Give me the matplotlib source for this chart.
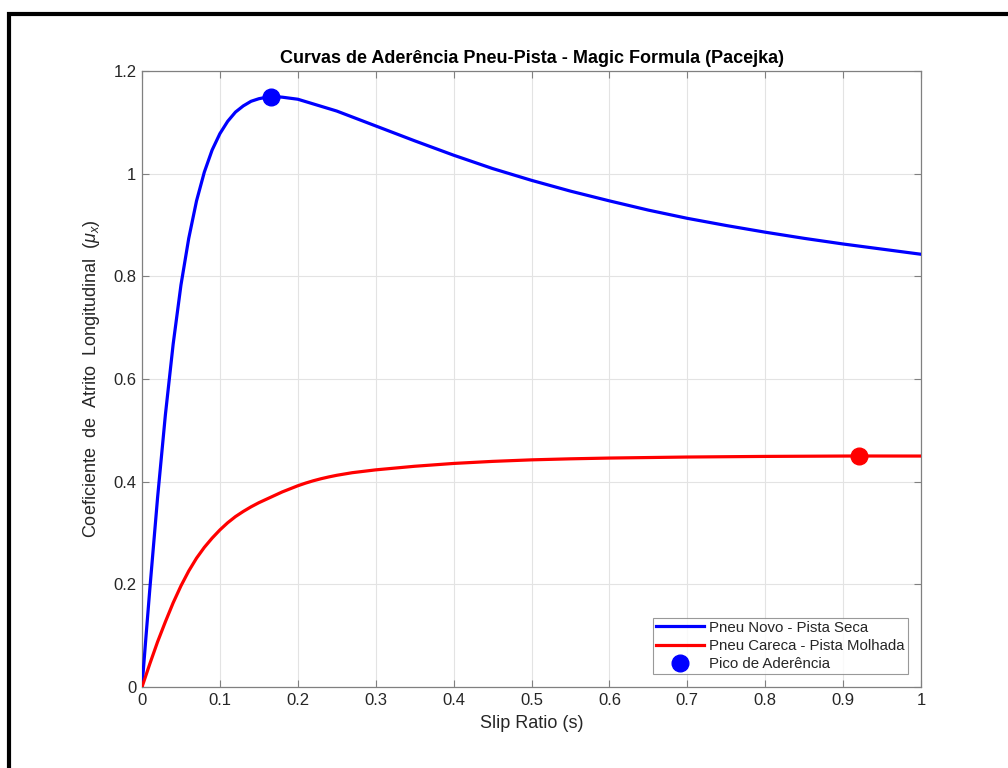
"""Curvas de aderencia pneu-pista (Magic Formula / Pacejka)."""

import matplotlib

matplotlib.use("Agg")
import matplotlib.pyplot as plt
from matplotlib.lines import Line2D

# --------------------------------------------------------------------- DATA

SLIP_DRY = [0.0, 0.005, 0.01, 0.02, 0.03, 0.04, 0.05, 0.06, 0.07, 0.08, 0.09,
            0.10, 0.11, 0.12, 0.13, 0.14, 0.15, 0.16, 0.17, 0.18, 0.19, 0.20,
            0.25, 0.30, 0.35, 0.40, 0.45, 0.50, 0.55, 0.60, 0.65, 0.70, 0.75,
            0.80, 0.85, 0.90, 0.95, 1.00]
MU_DRY = [0.0, 0.096, 0.190, 0.369, 0.530, 0.668, 0.783, 0.874, 0.947, 1.003,
          1.046, 1.078, 1.102, 1.120, 1.132, 1.141, 1.146, 1.149, 1.150, 1.149,
          1.147, 1.145, 1.122, 1.093, 1.064, 1.036, 1.010, 0.987, 0.966, 0.947,
          0.929, 0.913, 0.899, 0.886, 0.874, 0.863, 0.853, 0.843]

SLIP_WET = [0.0, 0.01, 0.02, 0.03, 0.04, 0.05, 0.06, 0.07, 0.08, 0.09, 0.10,
            0.11, 0.12, 0.13, 0.14, 0.15, 0.16, 0.17, 0.18, 0.19, 0.20, 0.21,
            0.22, 0.23, 0.24, 0.25, 0.27, 0.30, 0.35, 0.40, 0.45, 0.50, 0.55,
            0.60, 0.70, 0.80, 0.90, 0.92, 1.00]
MU_WET = [0.0, 0.045, 0.088, 0.127, 0.164, 0.197, 0.226, 0.251, 0.272, 0.290,
          0.306, 0.320, 0.332, 0.342, 0.351, 0.359, 0.366, 0.373, 0.380, 0.386,
          0.392, 0.3972, 0.4018, 0.4058, 0.4093, 0.4124, 0.4175, 0.4230, 0.4300,
          0.4355, 0.4395, 0.4425, 0.4445, 0.4460, 0.4480, 0.4492, 0.4499,
          0.4500, 0.4499]

PEAK_SLIP = [0.165, 0.92]
PEAK_MU = [1.150, 0.450]

X_TICKS = [0, 0.1, 0.2, 0.3, 0.4, 0.5, 0.6, 0.7, 0.8, 0.9, 1]
X_TICK_LABELS = ["0", "0.1", "0.2", "0.3", "0.4", "0.5", "0.6", "0.7", "0.8", "0.9", "1"]
Y_TICKS = [0, 0.2, 0.4, 0.6, 0.8, 1.0, 1.2]
Y_TICK_LABELS = ["0", "0.2", "0.4", "0.6", "0.8", "1", "1.2"]

# ------------------------------------------------------------------------

plt.rcParams["font.family"] = ["Liberation Sans", "DejaVu Sans"]
plt.rcParams["mathtext.fontset"] = "custom"
plt.rcParams["mathtext.it"] = "Liberation Sans:italic"
plt.rcParams["mathtext.rm"] = "Liberation Sans"

TXT = "#262626"
SPINE = "#808080"

fig = plt.figure(figsize=(10.08, 7.68), dpi=100)
ax = fig.add_axes([142 / 1008, 81 / 768, 779 / 1008, 616 / 768])

ax.plot(SLIP_DRY, MU_DRY, color="#0000ff", lw=2.3, label="Pneu Novo - Pista Seca", zorder=3)
ax.plot(SLIP_WET, MU_WET, color="#ff0000", lw=2.3, label="Pneu Careca - Pista Molhada", zorder=3)
ax.plot(PEAK_SLIP[:1], PEAK_MU[:1], "o", color="#0000ff", ms=12, label="Pico de Aderência", zorder=4)
ax.plot(PEAK_SLIP[1:], PEAK_MU[1:], "o", color="#ff0000", ms=12, zorder=4)

ax.set_xlim(0, 1)
ax.set_ylim(0, 1.2)
ax.set_xticks(X_TICKS, X_TICK_LABELS)
ax.set_yticks(Y_TICKS, Y_TICK_LABELS)
ax.tick_params(direction="in", length=5, width=0.8, color=SPINE, labelcolor=TXT,
               labelsize=12, top=True, right=True, pad=4)
for sp in ax.spines.values():
    sp.set_color(SPINE)
    sp.set_linewidth(0.9)
ax.grid(True, color="#e3e3e3", lw=0.8)
ax.set_axisbelow(True)

ax.set_title("Curvas de Aderência Pneu-Pista - Magic Formula (Pacejka)",
             fontsize=13, fontweight="bold", color="#000000", pad=6)
ax.set_xlabel("Slip Ratio (s)", fontsize=13, color=TXT, labelpad=5)
ax.set_ylabel(r"Coeficiente  de  Atrito  Longitudinal  ($\mu_x$)", fontsize=13,
              color=TXT, labelpad=8)

leg = ax.legend(loc="lower right", fontsize=10.8, frameon=True, fancybox=False,
                edgecolor=SPINE, handlelength=3.2, borderaxespad=0.9,
                labelspacing=0.27, handletextpad=0.35, borderpad=0.18)
leg.get_frame().set_linewidth(0.8)
for t in leg.get_texts():
    t.set_color(TXT)

# black frame of the screenshot (top and left edges)
fig.add_artist(Line2D([7 / 1008, 1.0], [1 - 14 / 768, 1 - 14 / 768], color="black",
                      lw=3.0, solid_capstyle="butt", transform=fig.transFigure))
fig.add_artist(Line2D([9 / 1008, 9 / 1008], [0.0, 1 - 12 / 768], color="black",
                      lw=3.0, solid_capstyle="butt", transform=fig.transFigure))

fig.savefig("out.png", dpi=100)
